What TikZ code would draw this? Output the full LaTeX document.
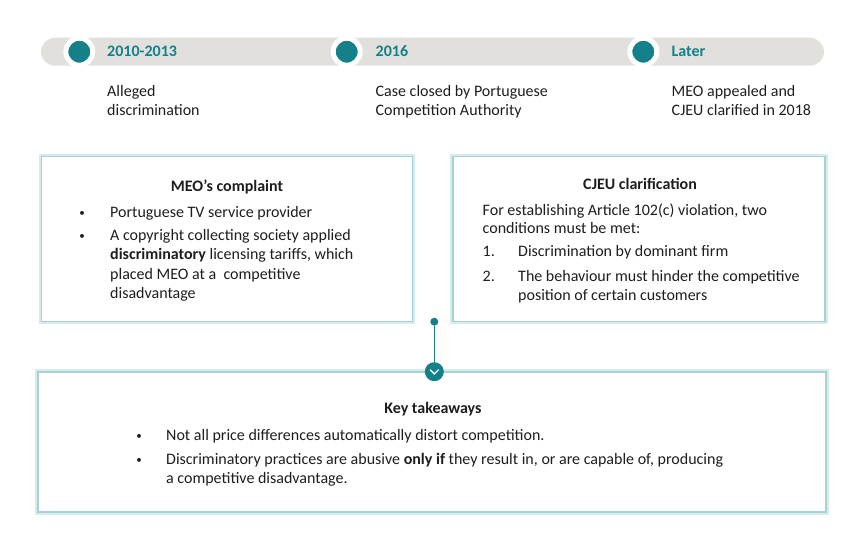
\documentclass[tikz,border=0pt]{standalone}
\usepackage{fontspec}
\setmainfont{Carlito}
\usetikzlibrary{positioning, calc}
\definecolor{meoteal}{HTML}{14808A}
\definecolor{meogrey}{HTML}{E1E0DC}
\definecolor{meoedge}{HTML}{A6D1D5}
\definecolor{meoglow}{HTML}{D6EBED}
\definecolor{meotext}{HTML}{1E1E1E}

\begin{document}
\begin{tikzpicture}[x=1pt, y=-1pt,
    every node/.style={inner sep=0pt, text=meotext,
      font=\fontsize{16}{19}\selectfont},
    txt/.style={anchor=base west},
    dotmark/.style={anchor=base, font=\fontsize{11}{13}\selectfont},
    cardtitle/.style={anchor=base, font=\fontsize{16}{19}\selectfont\bfseries},
    yeardot/.style={circle, fill=meoteal, draw=white, line width=5pt,
      minimum size=27pt},
    yearlabel/.style={anchor=base west, text=meoteal,
      font=\fontsize{16}{19}\selectfont\bfseries},
    card/.style={draw=meoedge, line width=1.8pt, fill=white,
      preaction={draw=meoglow, line width=5.5pt}}]
  \useasboundingbox (0,0) rectangle (864,550);

  % timeline
  \node[fill=meogrey, rounded corners=14pt, minimum width=783pt,
        minimum height=28pt] (bar) at (432.5,51.7) {};
  \node[yeardot] (dot1) at (79.3,51.7) {};
  \node[yeardot] (dot2) at (346.7,51.7) {};
  \node[yeardot] (dot3) at (643.3,51.7) {};
  \node[yearlabel] (yr1) at (107,56.7) {2010-2013};
  \node[yearlabel] (yr2) at (375.5,56.7) {2016};
  \node[yearlabel] (yr3) at (671.5,56.7) {Later};
  \node[txt] (ev1a) at (107,96.7) {Alleged};
  \node[txt] (ev1b) at (107,115.7) {discrimination};
  \node[txt] (ev2a) at (375.5,96.7) {Case closed by Portuguese};
  \node[txt] (ev2b) at (375.5,115.7) {Competition Authority};
  \node[txt] (ev3a) at (671.5,96.7) {MEO appealed and};
  \node[txt] (ev3b) at (671.5,115.7) {CJEU clarified in 2018};

  % cards
  \node[card, minimum width=371pt, minimum height=165pt] (complaint)
        at (227,239) {};
  \node[card, minimum width=372pt, minimum height=165pt] (clarif)
        at (639,239) {};
  \node[card, minimum width=788pt, minimum height=140pt] (takeaways)
        at (432,442) {};

  % complaint text
  \node[cardtitle] (comptitle) at (227,191) {MEO’s complaint};
  \node[dotmark] (cb1) at (82,216) {•};
  \node[txt] (cl1) at (110,217) {Portuguese TV service provider};
  \node[dotmark] (cb2) at (82,239) {•};
  \node[txt] (cl2) at (110,240) {A copyright collecting society applied};
  \node[txt] (cl3) at (110,259.5) {\textbf{discriminatory} licensing tariffs, which};
  \node[txt] (cl4) at (110,279) {placed MEO at a \ competitive};
  \node[txt] (cl5) at (110,298) {disadvantage};

  % clarification text
  \node[cardtitle] (clartitle) at (640,189.5) {CJEU clarification};
  \node[txt] (kl1) at (482.5,215) {For establishing Article 102(c) violation, two};
  \node[txt] (kl2) at (482.5,233.5) {conditions must be met:};
  \node[txt] (kn1) at (482.5,256.5) {1.};
  \node[txt] (kl3) at (518,256.5) {Discrimination by dominant firm};
  \node[txt] (kn2) at (482.5,281) {2.};
  \node[txt] (kl4) at (518,281) {The behaviour must hinder the competitive};
  \node[txt] (kl5) at (518,300) {position of certain customers};

  % takeaways text
  \node[cardtitle] (taketitle) at (433,413.5) {Key takeaways};
  \node[dotmark] (tb1) at (139,439) {•};
  \node[txt] (tl1) at (166,440) {Not all price differences automatically distort competition.};
  \node[dotmark] (tb2) at (139,463.5) {•};
  \node[txt] (tl2) at (166,464.5) {Discriminatory practices are abusive \textbf{only if} they result in, or are capable of, producing};
  \node[txt] (tl3) at (166,483.5) {a competitive disadvantage.};

  % connector
  \node[circle, fill=meoteal, minimum size=8pt] (topdot) at (434.3,321.7) {};
  \node[circle, fill=meoteal, minimum size=19pt] (down) at (434.3,371.7) {};
  \draw[meoteal, line width=1.3pt] (topdot) -- (down);
  \draw[white, line width=1.3pt, line cap=round]
    ($(down)+(-4,-1.8)$) -- ($(down)+(0,2.2)$) -- ($(down)+(4,-1.8)$);
\end{tikzpicture}
\end{document}
